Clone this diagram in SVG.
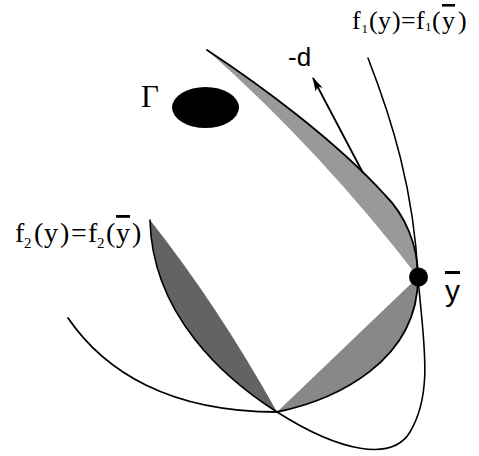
<svg xmlns="http://www.w3.org/2000/svg" width="479" height="456" viewBox="0 0 479 456">
<style>
.crv{fill:none;stroke:#000;stroke-width:1.6;stroke-linecap:round;stroke-linejoin:round}
.serif{font-family:"Liberation Serif","Times New Roman",serif;fill:#000}
.sans{font-family:"Liberation Sans",Arial,sans-serif;fill:#000}
</style>
<defs>
<marker id="ah" viewBox="0 0 14 8" refX="13" refY="4" markerWidth="14" markerHeight="8" markerUnits="userSpaceOnUse" orient="auto">
<path d="M0,0 L14,4 L0,8 L3,4 Z" fill="#000"/>
</marker>
</defs>
<rect width="479" height="456" fill="#fff"/>
<g id="regions">
<path id="leaf-upper" d="M418,277 C418,245 405,215 385,195 C335,140 260,85 207,50 Q320,150 418,277 Z" fill="#999"/>
<path id="leaf-left" d="M150,220 C152,315 225,379 277,412 Q218,306 150,220 Z" fill="#636363"/>
<path id="leaf-right" d="M277,412 C335,400 418,362 418,277 L277,412 Z" fill="#888"/>
</g>
<g id="connectors">
<path id="f1-curve" class="crv" d="M368,58 C392,120 414,190 418,277 C423,340 434,392 410,432 C392,462 340,452 277,412 C225,379 152,315 150,220"/>
<path id="f2-curve" class="crv" d="M68,318 C105,372 170,412 277,412 C335,400 418,362 418,277 C418,245 405,215 385,195 C335,140 260,85 207,50" style="stroke-width:1.8"/>
<line id="arrow-d" x1="363" y1="173" x2="313" y2="78" stroke="#000" stroke-width="1.8" marker-end="url(#ah)"/>
</g>
<g id="gamma">
<ellipse cx="205.5" cy="107.5" rx="33.5" ry="20.5" fill="#000"/>
<text class="serif" x="141" y="107" font-size="31">Γ</text>
</g>
<g id="ybar">
<circle cx="418.5" cy="277" r="9.5" fill="#000"/>
<text class="sans" x="445" y="301" font-size="30" text-decoration="overline">y</text>
</g>
<g id="label-d">
<text class="sans" x="288" y="66" font-size="26">-d</text>
</g>
<g id="label-f1">
<text class="serif" y="29" font-size="26"><tspan x="352">f</tspan><tspan x="361.5" y="33" font-size="13">1</tspan><tspan x="369" y="29">(</tspan><tspan x="378">y</tspan><tspan x="392">)</tspan><tspan x="401">=</tspan><tspan x="416">f</tspan><tspan x="425" y="31" font-size="13">1</tspan><tspan x="432" y="29">(</tspan><tspan x="442" text-decoration="overline">y</tspan><tspan x="458">)</tspan></text>
</g>
<g id="label-f2">
<text class="serif" y="242" font-size="28"><tspan x="15">f</tspan><tspan x="24" y="248" font-size="15">2</tspan><tspan x="34" y="242">(</tspan><tspan x="44">y</tspan><tspan x="60">)</tspan><tspan x="71">=</tspan><tspan x="88">f</tspan><tspan x="97" y="248" font-size="15">2</tspan><tspan x="106" y="242">(</tspan><tspan x="116" text-decoration="overline">y</tspan><tspan x="132">)</tspan></text>
</g>
</svg>
